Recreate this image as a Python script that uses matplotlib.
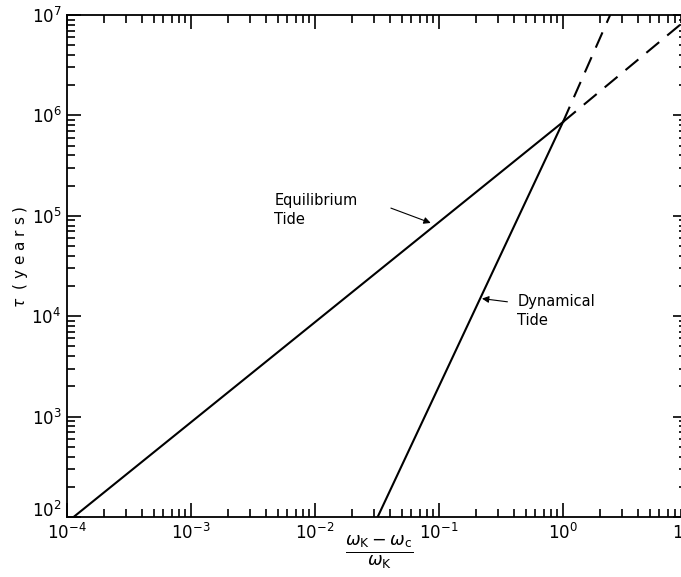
import matplotlib
matplotlib.use('Agg')
from matplotlib import pyplot as plt
from matplotlib.ticker import LogLocator, NullFormatter
from matplotlib.transforms import ScaledTranslation

# Data
eq_x = [1.13e-4, 1.0]
eq_y = [1e2, 8.6e5]
eq_ext_x = [1.0, 8.7]
eq_ext_y = [8.6e5, 7.9e6]

dyn_x = [0.032, 1.0]
dyn_y = [1e2, 8.6e5]
dyn_ext_x = [1.0, 2.4]
dyn_ext_y = [8.6e5, 1e7]

x_ticks = [1e-4, 1e-3, 1e-2, 1e-1, 1e0, 1e1]
x_labels = ['$10^{-4}$', '$10^{-3}$', '$10^{-2}$', '$10^{-1}$', '$10^{0}$', '$10^{1}$']
y_ticks = [1e2, 1e3, 1e4, 1e5, 1e6, 1e7]
y_labels = ['$10^{2}$', '$10^{3}$', '$10^{4}$', '$10^{5}$', '$10^{6}$', '$10^{7}$']

fig = plt.figure(figsize=(6.81, 5.77), dpi=100)
ax = fig.add_axes([67 / 681, 60 / 577, 620 / 681, 502 / 577])

ax.plot(eq_x, eq_y, color='black', lw=1.5)
ax.plot(eq_ext_x, eq_ext_y, color='black', lw=1.5, dashes=(8, 5))
ax.plot(dyn_x, dyn_y, color='black', lw=1.5)
ax.plot(dyn_ext_x, dyn_ext_y, color='black', lw=1.5, dashes=(8, 5))

ax.set_xscale('log')
ax.set_yscale('log')
ax.set_xlim(1e-4, 1e1)
ax.set_ylim(1e2, 1e7)

ax.set_xticks(x_ticks)
ax.set_xticklabels(x_labels, fontsize=12)
ax.set_yticks(y_ticks)
ax.set_yticklabels(y_labels, fontsize=12)
ax.xaxis.set_minor_locator(LogLocator(base=10, subs=range(2, 10), numticks=20))
ax.yaxis.set_minor_locator(LogLocator(base=10, subs=range(2, 10), numticks=20))
ax.xaxis.set_minor_formatter(NullFormatter())
ax.yaxis.set_minor_formatter(NullFormatter())
ax.tick_params(which='both', direction='in', top=True, right=True, width=1.2)
ax.tick_params(which='major', length=10, pad=4)
ax.tick_params(which='minor', length=5.5)
for s in ax.spines.values():
    s.set_linewidth(1.3)

# nudge the bottom y label up a little, as in the original
lab = ax.get_yticklabels()[0]
lab.set_transform(lab.get_transform() + ScaledTranslation(0, 8 / 100, fig.dpi_scale_trans))

ax.set_ylabel(r'$\tau$  ( y e a r s )', fontsize=11)
ax.yaxis.set_label_coords(-37 / 620, 0.518)
fig.text(379 / 681, 1 - 552 / 577, r'$\frac{\omega_\mathrm{K} - \omega_\mathrm{c}}{\omega_\mathrm{K}}$',
         fontsize=18, ha='center', va='center')

# Annotations with arrows
ax.annotate('', xy=(0.090, 8.3e4), xytext=(0.039, 1.22e5),
            arrowprops=dict(arrowstyle='-|>', color='black', lw=0.8, mutation_scale=10))
ax.text(4.7e-3, 1.14e5, 'Equilibrium\nTide', fontsize=10.5, ha='left', va='center',
        linespacing=1.35)
ax.annotate('', xy=(0.211, 1.51e4), xytext=(0.375, 1.38e4),
            arrowprops=dict(arrowstyle='-|>', color='black', lw=0.8, mutation_scale=10))
ax.text(0.427, 1.13e4, 'Dynamical\nTide', fontsize=10.5, ha='left', va='center',
        linespacing=1.35)

plt.savefig('out.png', dpi=100)
plt.close()
